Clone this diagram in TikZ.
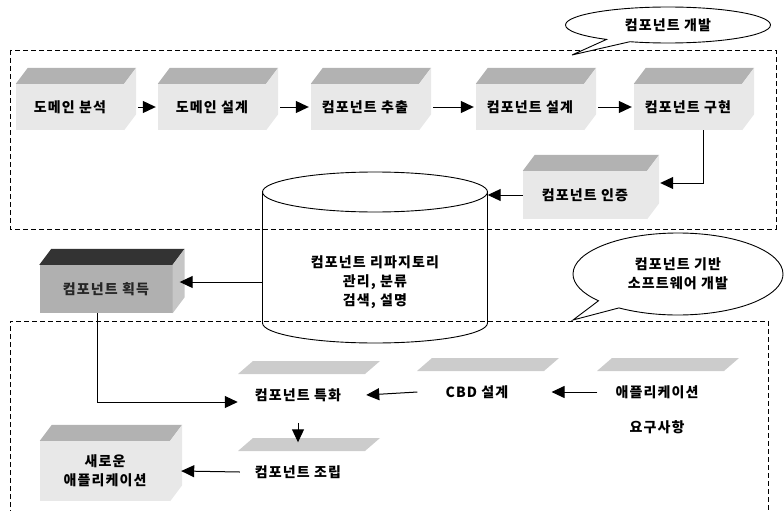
\documentclass[tikz,border=0pt]{standalone}
\usepackage{fontspec}
\setmainfont{Noto Sans CJK KR}[LetterSpace=8]
\usetikzlibrary{shapes.callouts, arrows.meta, positioning}

\tikzstyle{front} = [rectangle, fill=gray!18, inner sep=0pt,
  text centered, align=center,
  font=\fontsize{14}{16}\selectfont\bfseries]
\tikzstyle{label} = [inner sep=3pt,
  font=\fontsize{14}{16}\selectfont\bfseries]
\tikzstyle{bubble} = [ellipse callout, draw, line width=0.9pt,
  fill=white, inner sep=0pt, align=center,
  font=\fontsize{14}{16}\selectfont\bfseries]
\tikzstyle{frame} = [draw, dash pattern=on 5pt off 3pt, line width=0.9pt]
\tikzstyle{arrow} = [line width=1pt, -{Triangle[length=13pt, width=12pt]}]

% top and side face of a shaded box
\newcommand{\boxtop}[3]{%
  \fill[#2] (#1.north west) -- ++(12,16)
    -- ([shift={(12,16)}]#1.north east) -- (#1.north east) -- cycle;
  \fill[#3] (#1.north east) -- ++(12,16)
    -- ([shift={(12,16)}]#1.south east) -- (#1.south east) -- cycle;
}
% thin shaded slab above a label
\newcommand{\slab}[1]{%
  \fill[gray!40] ([shift={(-60,21)}]#1.center) -- ++(15,13)
    -- ++(127,0) -- ++(-15,-13) -- cycle;
}

\begin{document}
\begin{tikzpicture}[x=1pt, y=1pt]
\useasboundingbox (0,0) rectangle (784,-511);

%% ---- FRAMES ----
\draw[frame] (10,-50) rectangle (776,-229);
\draw[frame] (10,-515) -- (10,-321) -- (768,-321) -- (768,-515);

%%=============================================================
%% COMPONENT DEVELOPMENT
%%=============================================================
\node (devnote) [bubble, minimum width=205pt, minimum height=36pt,
  callout absolute pointer={(572,-55)}] at (668,-25) {컴포넌트 개발};

\node (da) [front, minimum width=108pt, minimum height=46pt] at (70,-107)  {도메인 분석};
\node (dd) [front, minimum width=108pt, minimum height=46pt] at (212,-107) {도메인 설계};
\node (ce) [front, minimum width=108pt, minimum height=46pt] at (365,-107) {컴포넌트 추출};
\node (cd) [front, minimum width=108pt, minimum height=46pt] at (530,-107) {컴포넌트 설계};
\node (ci) [front, minimum width=108pt, minimum height=46pt] at (688,-107) {컴포넌트 구현};
\node (cc) [front, minimum width=124pt, minimum height=48pt] at (585,-195) {컴포넌트 인증};

\boxtop{da}{gray!60}{gray!18}
\boxtop{dd}{gray!60}{gray!18}
\boxtop{ce}{gray!60}{gray!18}
\boxtop{cd}{gray!60}{gray!18}
\boxtop{ci}{gray!60}{gray!18}
\boxtop{cc}{gray!60}{gray!18}

\draw[arrow] ([xshift=14pt]da.east) -- ([xshift=-2pt]dd.west);
\draw[arrow] ([xshift=14pt]dd.east) -- ([xshift=-2pt]ce.west);
\draw[arrow] ([xshift=14pt]ce.east) -- ([xshift=-2pt]cd.west);
\draw[arrow] ([xshift=14pt]cd.east) -- ([xshift=-2pt]ci.west);
\draw[arrow] ([xshift=15pt]ci.south) |- ([xshift=13pt,yshift=12pt]cc.east);

%%=============================================================
%% REPOSITORY
%%=============================================================
\draw[line width=0.9pt] (375,-192) ellipse [x radius=112.5, y radius=20];
\draw[line width=0.9pt] (262.5,-192) -- (262.5,-323)
  arc[start angle=180, end angle=360, x radius=112.5, y radius=20]
  -- (487.5,-192);
\node (repo) [label, minimum width=225pt, align=center] at (375,-282)
  {컴포넌트 리파지토리\\[3pt]관리, 분류\\[3pt]검색, 설명};

\draw[arrow] (cc.west) -- (cc.west -| repo.east);

%%=============================================================
%% COMPONENT BASED SOFTWARE DEVELOPMENT
%%=============================================================
\node (cbdnote) [bubble, minimum width=210pt, minimum height=82pt,
  callout absolute pointer={(573,-320)}] at (678,-274)
  {컴포넌트 기반\\[3pt]소프트웨어 개발};

\node (acq) [front, fill=gray!62, text=gray!30!black,
  minimum width=133pt, minimum height=48pt] at (106,-289) {컴포넌트 획득};
\boxtop{acq}{black!80}{gray!45}

\node (spec)   [label] at (298,-395) {컴포넌트 특화};
\node (cbd)    [label] at (477,-392) {CBD 설계};
\node (app)    [label] at (657,-392) {애플리케이션};
\node (appreq) [label, below=16pt of app] {요구사항};
\node (asm)    [label] at (298,-472) {컴포넌트 조립};

\slab{spec}
\slab{cbd}
\slab{app}
\slab{asm}

\node (newapp) [front, minimum width=130pt, minimum height=60pt] at (105,-471)
  {새로운\\[3pt]애플리케이션};
\boxtop{newapp}{gray!60}{gray!18}

\draw[arrow] (repo.west) -- ([xshift=7pt,yshift=7pt]acq.east);
\draw[arrow] ([xshift=-9pt]acq.south) |- ([xshift=-14pt,yshift=-7pt]spec.west);
\draw[arrow] ([xshift=-15pt]app.west) -- ([xshift=40pt]cbd.east);
\draw[arrow] ([xshift=-25pt]cbd.west) -- ([xshift=22pt]spec.east);
\draw[arrow] ([yshift=-18pt]spec.south) -- ([yshift=20pt]asm.north);
\draw[arrow] ([xshift=-12pt]asm.west) -- ([xshift=11pt]newapp.east);

\end{tikzpicture}
\end{document}
